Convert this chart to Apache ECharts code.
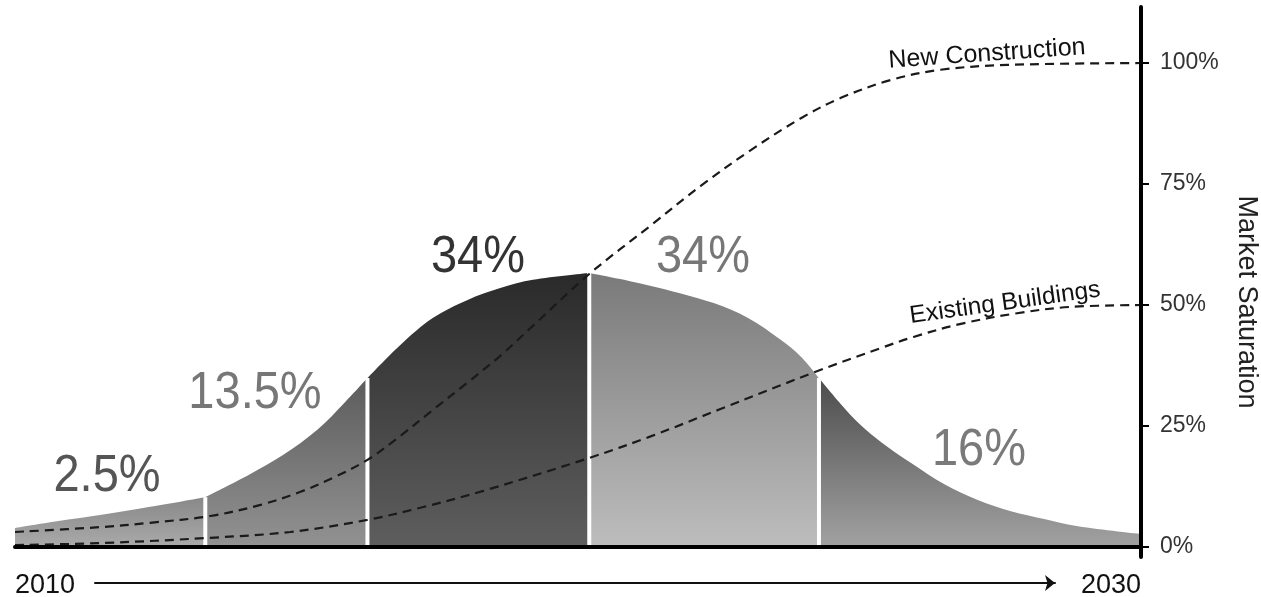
<!DOCTYPE html>
<html>
<head>
<meta charset="utf-8">
<script src="https://cdn.jsdelivr.net/npm/echarts@6/dist/echarts.min.js"></script>
<style>
  html, body { margin: 0; padding: 0; background: #ffffff; }
  #chart { width: 1261px; height: 597px; }
</style>
</head>
<body>
<div id="chart"></div>
<script>
// Adoption curve (height of the bell, in saturation-axis units) by year
const bellYears = [2010, 2010.8, 2011.51, 2012.4, 2013.38, 2014.18, 2014.76, 2015.37, 2015.87,
  2016.26, 2016.84, 2017.42, 2018.03, 2018.62, 2019.2, 2020.2, 2021.24, 2022.41, 2023.02,
  2023.6, 2023.96, 2024.28, 2024.67, 2025.02, 2025.38, 2025.91, 2026.5, 2027.1, 2027.69,
  2028.28, 2028.88, 2030];
const bellHeights = [3.9, 5.4, 6.6, 8.3, 10.3, 15.1, 19.0, 24.2, 30.0,
  34.9, 41.7, 47.3, 51.0, 53.5, 55.2, 56.6, 54.1, 50.4, 47.3,
  42.8, 39.3, 34.9, 29.5, 25.2, 21.7, 17.4, 13.0, 9.7, 7.4,
  5.8, 4.3, 2.7];

// Adopter groups: boundaries (years on the bell) and their shares
const segmentBreaks = [2010, 2013.38, 2016.26, 2020.2, 2024.28, 2030];
const segmentLabels = ['2.5%', '13.5%', '34%', '34%', '16%'];

// Market saturation curves (%)
const ncYears = [2010, 2011.51, 2012.4, 2013.47, 2014.36, 2015.07, 2015.65, 2016.26, 2016.84,
  2017.42, 2018.03, 2018.62, 2019.2, 2020.2, 2021.3, 2022.18, 2023.07, 2023.96, 2024.67,
  2025.56, 2026.44, 2027.63, 2030];
const ncValues = [3.1, 4.1, 5.0, 6.4, 8.7, 11.4, 14.3, 18.0, 22.9,
  28.3, 33.9, 39.5, 45.7, 56.4, 66.5, 74.6, 82.0, 88.6, 92.8,
  96.5, 98.6, 99.6, 100];

const ebYears = [2010, 2011.51, 2013.47, 2014.89, 2016.26, 2017.2, 2018.32, 2020.2, 2021.3,
  2022.53, 2024.22, 2025.38, 2025.96, 2026.8, 2027.8, 2028.74, 2030];
const ebValues = [0.4, 0.8, 1.9, 3.1, 5.6, 8.1, 11.6, 18.4, 22.9,
  28.5, 36.2, 41.1, 43.4, 46.1, 48.3, 49.6, 50];

const saturationTicks = [0, 25, 50, 75, 100];
const startYear = 2010;
const endYear = 2030;

// ---- styling ----
const FONT = '"Liberation Sans", Arial, sans-serif';
const segmentFills = [
  ['#888888', '#aaaaaa'],
  ['#5c5c5c', '#929292'],
  ['#2a2a2a', '#5e5e5e'],
  ['#7a7a7a', '#bdbdbd'],
  ['#4c4c4c', '#a2a2a2']
];
const labelStyles = [
  { x: 107, y: 476, fill: '#555555' },
  { x: 255, y: 393, fill: '#777777' },
  { x: 478, y: 257, fill: '#333333' },
  { x: 703, y: 257, fill: '#777777' },
  { x: 979, y: 450, fill: '#7a7a7a' }
];

const pairs = (xs, ys) => xs.map((x, i) => [x, ys[i]]);

const series = [];

// Filled bell, one area per adopter group
for (let s = 0; s < segmentBreaks.length - 1; s++) {
  const a = bellYears.indexOf(segmentBreaks[s]);
  const b = bellYears.indexOf(segmentBreaks[s + 1]);
  const pts = pairs(bellYears.slice(a, b + 1), bellHeights.slice(a, b + 1));
  series.push({
    type: 'line',
    data: pts,
    smooth: 0.35,
    symbol: 'none',
    silent: true,
    z: 2,
    lineStyle: { width: 0 },
    areaStyle: {
      opacity: 1,
      color: new echarts.graphic.LinearGradient(0, 0, 0, 1, [
        { offset: 0, color: segmentFills[s][0] },
        { offset: 1, color: segmentFills[s][1] }
      ])
    }
  });
}

// White separators between groups, up to the bell edge
for (let s = 1; s < segmentBreaks.length - 1; s++) {
  const i = bellYears.indexOf(segmentBreaks[s]);
  series.push({
    type: 'line',
    data: [[bellYears[i], 0], [bellYears[i], bellHeights[i]]],
    symbol: 'none',
    silent: true,
    z: 3,
    lineStyle: { color: '#ffffff', width: 4 }
  });
}

// Saturation curves
[[ncYears, ncValues, 'New Construction'], [ebYears, ebValues, 'Existing Buildings']].forEach(([xs, ys, name]) => {
  series.push({
    type: 'line',
    name: name,
    data: pairs(xs, ys),
    smooth: 0.35,
    symbol: 'none',
    silent: true,
    z: 4,
    lineStyle: { color: '#1a1a1a', width: 2.2, type: [9, 6] }
  });
});

const graphics = segmentLabels.map((t, i) => ({
  type: 'text',
  x: labelStyles[i].x,
  y: labelStyles[i].y,
  scaleY: 1.12,
  silent: true,
  z: 10,
  style: {
    text: t,
    font: '47px ' + FONT,
    fill: labelStyles[i].fill,
    align: 'center',
    verticalAlign: 'middle'
  }
}));

graphics.push({
  type: 'text', x: 987, y: 54, rotation: 4 * Math.PI / 180, silent: true, z: 10,
  style: { text: 'New Construction', font: '25px ' + FONT, fill: '#111111', align: 'center', verticalAlign: 'middle' }
});
graphics.push({
  type: 'text', x: 1005, y: 303, rotation: 8 * Math.PI / 180, silent: true, z: 10,
  style: { text: 'Existing Buildings', font: '24.5px ' + FONT, fill: '#111111', align: 'center', verticalAlign: 'middle' }
});
graphics.push({
  type: 'text', x: 1246, y: 302, rotation: -Math.PI / 2, silent: true, z: 10,
  style: { text: 'Market Saturation', font: '27px ' + FONT, fill: '#222222', align: 'center', verticalAlign: 'middle' }
});

const chart = echarts.init(document.getElementById('chart'), null, { renderer: 'canvas' });
chart.setOption({
  animation: false,
  backgroundColor: '#ffffff',
  grid: [
    { left: 15, right: 120, top: 7, bottom: 40, containLabel: false, outerBoundsMode: 'none' },
    { left: 95, right: 206, top: 540, bottom: 14, containLabel: false, outerBoundsMode: 'none' }
  ],
  xAxis: [
    {
      type: 'value',
      gridIndex: 0,
      min: startYear,
      max: endYear,
      interval: endYear - startYear,
      z: 6,
      axisLine: { show: true, onZero: true, lineStyle: { color: '#000000', width: 4 } },
      axisTick: { show: false },
      splitLine: { show: false },
      axisLabel: {
        show: true,
        margin: 15,
        fontSize: 27,
        fontFamily: FONT,
        color: '#111111',
        formatter: (v) => String(v),
        alignMinLabel: 'left',
        alignMaxLabel: 'right'
      }
    },
    {
      type: 'value',
      gridIndex: 1,
      min: 0,
      max: 1,
      axisLine: {
        show: true,
        onZero: false,
        symbol: ['none', 'arrow'],
        symbolSize: [12, 10],
        lineStyle: { color: '#111111', width: 2 }
      },
      axisTick: { show: false },
      axisLabel: { show: false },
      splitLine: { show: false }
    }
  ],
  yAxis: [
    {
      type: 'value',
      gridIndex: 0,
      position: 'right',
      min: -2.07,
      max: 111.57,
      z: 6,
      axisLine: { show: true, lineStyle: { color: '#000000', width: 4 } },
      axisTick: {
        show: true,
        length: 8,
        customValues: saturationTicks,
        lineStyle: { color: '#000000', width: 2 }
      },
      axisLabel: {
        show: true,
        customValues: saturationTicks,
        margin: 19,
        formatter: '{value}%',
        fontSize: 23,
        fontFamily: FONT,
        color: '#333333'
      },
      splitLine: { show: false }
    },
    { type: 'value', gridIndex: 1, show: false, min: 0, max: 1 }
  ],
  graphic: graphics,
  series: series
});
</script>
</body>
</html>
